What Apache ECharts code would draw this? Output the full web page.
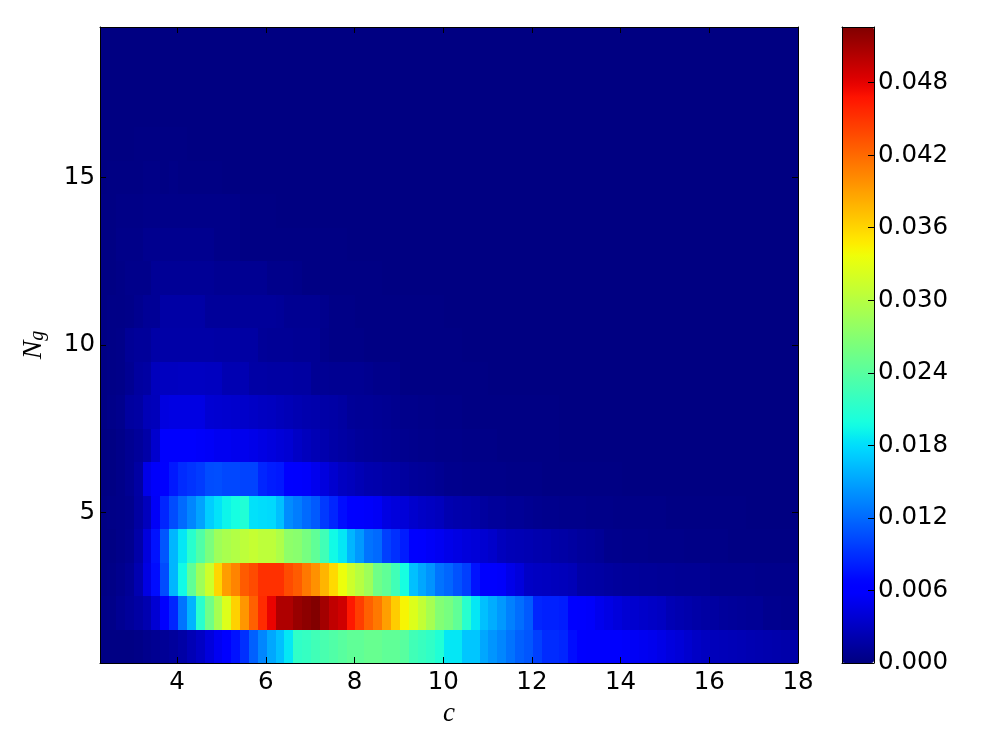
<!DOCTYPE html>
<html><head><meta charset="utf-8">
<style>html,body{margin:0;padding:0;background:#fff}#c{width:1000px;height:750px}</style>
<script src="https://cdn.jsdelivr.net/npm/echarts@6/dist/echarts.min.js"></script>
</head><body><div id="c"></div>
<script>
const firstColumnCentre = 2.32, columnStep = 0.2;
const xTicks = [4,6,8,10,12,14,16,18];
const yTicks = [5,10,15];
const barTicks = [0,0.006,0.012,0.018,0.024,0.03,0.036,0.042,0.048];
const valueMax = 0.0526;

const ng1 = [.0002,.0002,.0002,.0002,.0003,.0006,.0008,.001,.0013,.0017,
.0024,.0031,.0042,.0052,.0062,.0075,.009,.0115,.0135,.0152,
.0165,.0185,.0215,.0218,.0225,.023,.0235,.024,.0245,.0245,
.025,.025,.0245,.0245,.024,.0225,.022,.0215,.0205,.0185,
.0185,.0168,.0168,.0152,.0143,.0135,.0125,.0115,.011,.0098,
.0088,.0088,.0085,.0072,.0064,.006,.0059,.0059,.0058,.0056,
.0054,.0052,.005,.0047,.0043,.004,.0036,.0032,.0029,.0027,
.0026,.0025,.0024,.0023,.0022,.0021,.002,.0019,.0018];
const ng2 = [.0003,.0004,.0008,.0012,.0016,.0022,.0038,.0058,.0085,.0125,
.0158,.021,.0255,.029,.0325,.0362,.0395,.0425,.0455,.0478,
.0505,.0505,.0515,.052,.0525,.051,.0497,.049,.0465,.0445,
.0425,.0412,.039,.0365,.0342,.0325,.0308,.029,.0268,.026,
.0245,.021,.0185,.0165,.0155,.0145,.0132,.0122,.0112,.0085,
.0082,.0082,.008,.0065,.006,.0056,.005,.0046,.0042,.0038,
.0036,.0034,.0032,.003,.0024,.0022,.002,.0018,.0016,.0015,
.0013,.0012,.0011,.001,.001,.0007,.0007,.0006,.0006];
const ng3 = [.0002,.0003,.0006,.001,.0022,.0045,.0072,.0105,.016,.0195,
.0245,.0285,.0315,.036,.0392,.0405,.0428,.0437,.0452,.0452,
.0452,.0437,.0428,.0412,.0398,.0378,.0358,.0335,.0315,.03,
.0285,.0255,.0245,.0225,.0198,.0165,.0152,.0142,.0125,.0118,
.0108,.0098,.0075,.006,.0058,.0056,.0048,.0042,.0032,.003,
.0029,.0028,.0027,.0025,.0018,.0017,.0016,.0014,.0013,.0012,
.0012,.0011,.0011,.001,.001,.0009,.0009,.0009,.0009,.0006,
.0006,.0006,.0006,.0006,.0005,.0005,.0005,.0005,.0005];
const ng4 = [.0002,.0002,.0004,.0007,.0018,.0042,.0075,.011,.016,.0185,
.021,.0235,.0262,.0285,.0292,.0298,.0305,.031,.0305,.0305,
.0295,.0275,.0272,.026,.0245,.0225,.0195,.0185,.016,.0145,
.0125,.012,.0098,.009,.008,.0062,.0058,.0055,.0052,.0048,
.0045,.0042,.004,.0037,.0034,.0028,.0025,.0024,.0023,.0021,
.002,.0018,.0017,.0015,.0013,.0012,.001,.0006,.0006,.0005,
.0005,.0005,.0004,.0004,.0004,.0004,.0003,.0003,.0003,.0003,
.0003,.0002,.0002,.0002,.0002,.0002,.0002,.0002,.0002];
const ng5 = [.0002,.0003,.0004,.0006,.0015,.0028,.0055,.0085,.0105,.012,
.0135,.015,.0172,.0183,.0192,.0198,.0205,.0182,.018,.0178,
.0165,.0138,.013,.012,.0112,.0095,.0085,.0072,.0062,.0058,
.0056,.0054,.0045,.0042,.004,.0035,.0032,.003,.0028,.0022,
.002,.0019,.0018,.0014,.0012,.0012,.001,.001,.0008,.0007,
.0006,.0006,.0005,.0005,.0005,.0004,.0004,.0004,.0003,.0003,
.0003,.0003,.0003,.0003,.0002,.0002,.0002,.0002,.0002,.0002,
.0002,.0002,.0002,.0001,.0001,.0001,.0001,.0001,.0001];
const ng6 = [.0001,.0002,.0004,.0008,.0016,.0048,.0056,.0065,.0078,.0088,
.0092,.0096,.0105,.0106,.0102,.0102,.01,.01,.0085,.008,
.0078,.0062,.0058,.0056,.005,.0043,.0036,.003,.0028,.0024,
.0021,.002,.0018,.0017,.0014,.0012,.0011,.001,.0008,.0006,
.0006,.0005,.0005,.0004,.0004,.0004,.0003,.0003,.0003,.0003,
.0002,.0002,.0002,.0002,.0002,.0002,.0002,.0002,.0002,.0001,
.0001,.0001,.0001,.0001,.0001,.0001,.0001,.0001,.0001,.0001,
.0001,.0001,.0001,.0001,.0001,.0001,.0001,.0001,.0001];
const ng7 = [.0001,.0002,.0004,.0008,.0012,.0018,.0035,.0058,.0058,.0058,
.0058,.0056,.0055,.0052,.0052,.005,.005,.0048,.0045,.0043,
.004,.0038,.0032,.0028,.0024,.0021,.0018,.0016,.0014,.0012,
.0011,.001,.0009,.0008,.0007,.0006,.0005,.0005,.0004,.0004,
.0004,.0003,.0003,.0003,.0003,.0002,.0002,.0002,.0002,.0002,
.0002,.0002,.0001,.0001,.0001,.0001,.0001,.0001,.0001,.0001,
.0001,.0001,.0001,.0001,.0001,.0001,.0001,.0001,.0001,.0001,
.0001,.0001,.0001,.0001,.0001,.0001,.0001,.0001,.0001];
const ng8 = [.0002,.0004,.0006,.0014,.0016,.0025,.0027,.0044,.0045,.0045,
.0045,.0045,.0038,.0037,.0036,.0035,.0034,.0032,.003,.0029,
.0027,.0025,.0023,.0021,.002,.0018,.0017,.0015,.0011,.001,
.001,.0009,.0008,.0007,.0005,.0005,.0004,.0004,.0003,.0003,
.0003,.0002,.0002,.0002,.0002,.0002,.0002,.0002,.0002,.0002,
.0002,.0002,.0001,.0001,.0001,.0001,.0001,.0001,.0001,.0001,
.0001,.0001,.0001,.0001,.0001,.0001,.0001,.0001,.0001,.0001,
.0001,.0001,.0001,.0001,.0001,.0001,.0001,.0001,.0001];
const ng9 = [.0002,.0003,.0004,.0008,.0014,.0016,.0028,.0029,.0029,.003,
.003,.003,.0029,.0029,.0023,.0023,.0023,.0017,.0017,.0016,
.0016,.0016,.0015,.0015,.0009,.0009,.0008,.0008,.0008,.0008,
.0007,.0005,.0005,.0005,.0002,.0002,.0002,.0002,.0002,.0002,
.0002,.0002,.0002,.0002,.0001,.0001,.0001,.0001,.0001,.0001,
.0001,.0001,.0001,.0001,.0001,.0001,.0001,.0001,.0001,.0001,
.0001,.0001,.0001,.0001,.0001,.0001,.0001,.0001,.0001,.0001,
.0001,.0001,.0001,.0001,.0001,.0001,.0001,.0001,.0001];
const ng10 = [.0002,.0003,.0004,.001,.0012,.0012,.0018,.0018,.0018,.0018,
.0018,.0018,.0018,.0017,.0017,.0017,.0016,.0016,.0011,.001,
.001,.001,.0009,.0009,.0009,.0005,.0003,.0003,.0003,.0003,
.0002,.0002,.0002,.0002,.0002,.0002,.0002,.0002,.0002,.0002,
.0002,.0001,.0001,.0001,.0001,.0001,.0001,.0001,.0001,.0001,
.0001,.0001,.0001,.0001,.0001,.0001,.0001,.0001,.0001,.0001,
.0001,.0001,.0001,.0001,.0001,.0001,.0001,.0001,.0001,.0001,
.0001,.0001,.0001,.0001,.0001,.0001,.0001,.0001,.0001];
const ng11 = [.0002,.0003,.0003,.0004,.0007,.001,.001,.0017,.0017,.0017,
.0017,.0017,.0012,.0012,.0012,.0012,.0012,.0012,.0012,.0012,
.0011,.0008,.0008,.0008,.0008,.0006,.0003,.0003,.0003,.0002,
.0002,.0002,.0002,.0002,.0002,.0002,.0002,.0002,.0002,.0001,
.0001,.0001,.0001,.0001,.0001,.0001,.0001,.0001,.0001,.0001,
.0001,.0001,.0001,.0001,.0001,.0001,.0001,.0001,.0001,.0001,
.0001,.0001,.0001,.0001,.0001,.0001,.0001,.0001,.0001,.0001,
.0001,.0001,.0001,.0001,.0001,.0001,.0001,.0001,.0001];
const ng12 = [.0002,.0002,.0003,.0005,.0005,.0005,.001,.001,.001,.001,
.001,.001,.001,.0008,.0008,.0008,.0008,.0008,.0008,.0005,
.0005,.0005,.0004,.0002,.0002,.0002,.0002,.0002,.0002,.0002,
.0002,.0002,.0001,.0001,.0001,.0001,.0001,.0001,.0001,.0001,
.0001,.0001,.0001,.0001,.0001,.0001,.0001,.0001,.0001,.0001,
.0001,.0001,.0001,.0001,.0001,.0001,.0001,.0001,.0001,.0001,
.0001,.0001,.0001,.0001,.0001,.0001,.0001,.0001,.0001,.0001,
.0001,.0001,.0001,.0001,.0001,.0001,.0001,.0001,.0001];
const ng13 = [.0002,.0002,.0004,.0004,.0004,.0007,.0007,.0007,.0007,.0007,
.0007,.0007,.0007,.0004,.0004,.0004,.0002,.0002,.0002,.0002,
.0002,.0002,.0002,.0002,.0002,.0002,.0002,.0002,.0001,.0001,
.0001,.0001,.0001,.0001,.0001,.0001,.0001,.0001,.0001,.0001,
.0001,.0001,.0001,.0001,.0001,.0001,.0001,.0001,.0001,.0001,
.0001,.0001,.0001,.0001,.0001,.0001,.0001,.0001,.0001,.0001,
.0001,.0001,.0001,.0001,.0001,.0001,.0001,.0001,.0001,.0001,
.0001,.0001,.0001,.0001,.0001,.0001,.0001,.0001,.0001];
const ng14 = [.0002,.0002,.0003,.0003,.0003,.0004,.0004,.0004,.0004,.0004,
.0004,.0004,.0004,.0004,.0004,.0004,.0002,.0002,.0002,.0002,
.0001,.0001,.0001,.0001,.0001,.0001,.0001,.0001,.0001,.0001,
.0001,.0001,.0001,.0001,.0001,.0001,.0001,.0001,.0001,.0001,
.0001,.0001,.0001,.0001,.0001,.0001,.0001,.0001,.0001,.0001,
.0001,.0001,.0001,.0001,.0001,.0001,.0001,.0001,.0001,.0001,
.0001,.0001,.0001,.0001,.0001,.0001,.0001,.0001,.0001,.0001,
.0001,.0001,.0001,.0001,.0001,.0001,.0001,.0001,.0001];
const ng15 = [.0001,.0002,.0002,.0002,.0002,.0003,.0003,.0002,.0003,.0002,
.0002,.0002,.0002,.0002,.0001,.0001,.0001,.0001,.0001,.0001,
.0001,.0001,.0001,.0001,.0001,.0001,.0001,.0001,.0001,.0001,
.0001,.0001,.0001,.0001,.0001,.0001,.0001,.0001,.0001,.0001,
.0001,.0001,.0001,.0001,.0001,.0001,.0001,.0001,.0001,.0001,
.0001,.0001,.0001,.0001,.0001,.0001,.0001,.0001,.0001,.0001,
.0001,.0001,.0001,.0001,.0001,.0001,.0001,.0001,.0001,.0001,
.0001,.0001,.0001,.0001,.0001,.0001,.0001,.0001,.0001];
const ng16 = [.0001,.0001,.0001,.0001,.0002,.0002,.0002,.0002,.0002,.0002,
.0001,.0001,.0001,.0001,.0001,.0001,.0001,.0001,.0001,.0001,
.0001,.0001,.0001,.0001,.0001,.0001,.0001,.0001,.0001,.0001,
.0001,.0001,.0001,.0001,.0001,.0001,.0001,.0001,.0001,.0001,
.0001,.0001,.0001,.0001,.0001,.0001,.0001,.0001,.0001,.0001,
.0001,.0001,.0001,.0001,.0001,.0001,.0001,.0001,.0001,.0001,
.0001,.0001,.0001,.0001,.0001,.0001,.0001,.0001,.0001,.0001,
.0001,.0001,.0001,.0001,.0001,.0001,.0001,.0001,.0001];
const ng17 = [.0001,.0001,.0001,.0001,.0001,.0001,.0001,.0001,.0001,.0001,
.0001,.0001,.0001,.0001,.0001,.0001,.0001,.0001,.0001,.0001,
.0001,.0001,.0001,.0001,.0001,.0001,.0001,.0001,.0001,.0001,
.0001,.0001,.0001,.0001,.0001,.0001,.0001,.0001,.0001,.0001,
.0001,.0001,.0001,.0001,.0001,.0001,.0001,.0001,.0001,.0001,
.0001,.0001,.0001,.0001,.0001,.0001,.0001,.0001,.0001,.0001,
.0001,.0001,.0001,.0001,.0001,.0001,.0001,.0001,.0001,.0001,
.0001,.0001,.0001,.0001,.0001,.0001,.0001,.0001,.0001];
const ng18 = ng17.slice();
const ng19 = ng17.slice();
const rows = [ng1,ng2,ng3,ng4,ng5,ng6,ng7,ng8,ng9,ng10,ng11,ng12,ng13,ng14,ng15,ng16,ng17,ng18,ng19];

const cells = [];
rows.forEach((row, r) => row.forEach((v, k) => cells.push([firstColumnCentre + k * columnStep, r + 1, v])));

function jetChannel(t, pts){
  for (let i = 1; i < pts.length; i++) {
    if (t <= pts[i][0]) {
      const a = pts[i-1], b = pts[i];
      return a[1] + (b[1]-a[1]) * (t-a[0]) / (b[0]-a[0]);
    }
  }
  return pts[pts.length-1][1];
}
const jetStops = [];
for (let i = 0; i <= 64; i++) {
  const t = i / 64;
  const r = jetChannel(t, [[0,0],[.35,0],[.66,1],[.89,1],[1,.5]]);
  const g = jetChannel(t, [[0,0],[.125,0],[.375,1],[.64,1],[.91,0],[1,0]]);
  const b = jetChannel(t, [[0,.5],[.11,1],[.34,1],[.65,0],[1,0]]);
  jetStops.push(`rgb(${Math.round(r*255)},${Math.round(g*255)},${Math.round(b*255)})`);
}

const chart = echarts.init(document.getElementById('c'), null, {renderer:'canvas'});
const tickFont = {fontFamily:'DejaVu Sans', fontSize:24.5, color:'#000'};
const frame = {show:true, onZero:false, lineStyle:{color:'#000', width:1}};
const mathFont = {fontFamily:'Liberation Serif', fontStyle:'italic', color:'#000'};

chart.setOption({
  animation:false,
  backgroundColor:'#fff',
  grid:[
    {left:100, top:27, width:698, height:636},
    {left:842, top:27, width:32, height:636}
  ],
  visualMap:{
    type:'continuous', seriesIndex:0, dimension:2, min:0, max:valueMax,
    calculable:false, hoverLink:false, realtime:false,
    left:842, top:27, itemWidth:32, itemHeight:636, padding:0,
    inRange:{color:jetStops}, textStyle:{fontSize:0}, text:null
  },
  xAxis:[
    {type:'value', gridIndex:0, min:2.26, max:18, position:'bottom', z:5,
     name:'c', nameLocation:'middle', nameGap:37,
     nameTextStyle:Object.assign({fontSize:27}, mathFont),
     axisLine:frame, splitLine:{show:false},
     axisTick:{inside:true, length:6, lineStyle:{color:'#000'}, customValues:xTicks},
     axisLabel:Object.assign({margin:7, customValues:xTicks, formatter:v=>String(v)}, tickFont)},
    {type:'value', gridIndex:0, min:2.26, max:18, position:'top', z:5,
     axisLine:frame, splitLine:{show:false},
     axisTick:{inside:true, length:6, lineStyle:{color:'#000'}, customValues:xTicks},
     axisLabel:{show:false}},
    {type:'value', gridIndex:1, min:0, max:1, position:'bottom', z:5,
     axisLine:frame, splitLine:{show:false}, axisTick:{show:false}, axisLabel:{show:false}},
    {type:'value', gridIndex:1, min:0, max:1, position:'top', z:5,
     axisLine:frame, splitLine:{show:false}, axisTick:{show:false}, axisLabel:{show:false}}
  ],
  yAxis:[
    {type:'value', gridIndex:0, min:0.5, max:19.5, position:'left', z:5,
     name:'{n|N}{g|g}', nameLocation:'middle', nameGap:52, nameRotate:90,
     nameTextStyle:{rich:{
       n:Object.assign({fontSize:28}, mathFont),
       g:Object.assign({fontSize:20, verticalAlign:'bottom'}, mathFont)}},
     axisLine:frame, splitLine:{show:false},
     axisTick:{inside:true, length:6, lineStyle:{color:'#000'}, customValues:yTicks},
     axisLabel:Object.assign({margin:5, padding:[2,0,0,0], customValues:yTicks, formatter:v=>String(v)}, tickFont)},
    {type:'value', gridIndex:0, min:0.5, max:19.5, position:'right', z:5,
     axisLine:frame, splitLine:{show:false},
     axisTick:{inside:true, length:6, lineStyle:{color:'#000'}, customValues:yTicks},
     axisLabel:{show:false}},
    {type:'value', gridIndex:1, min:0, max:valueMax, position:'left', z:5,
     axisLine:frame, splitLine:{show:false}, axisTick:{show:false}, axisLabel:{show:false}},
    {type:'value', gridIndex:1, min:0, max:valueMax, position:'right', z:5,
     axisLine:frame, splitLine:{show:false},
     axisTick:{inside:true, length:6, lineStyle:{color:'#000'}, customValues:barTicks},
     axisLabel:Object.assign({margin:4, customValues:barTicks, formatter:v=>v.toFixed(3)}, tickFont)}
  ],
  series:[{
    type:'custom', xAxisIndex:0, yAxisIndex:0, clip:true, silent:true,
    encode:{x:0, y:1},
    data:cells,
    renderItem:(params, api)=>{
      const x = api.value(0), y = api.value(1);
      const a = api.coord([x-columnStep/2, y+0.5]);
      const b = api.coord([x+columnStep/2, y-0.5]);
      const x0 = Math.round(a[0]), x1 = Math.round(b[0]);
      const y0 = Math.round(a[1]), y1 = Math.round(b[1]);
      return {type:'rect', shape:{x:x0, y:y0, width:x1-x0, height:y1-y0},
              style:{fill:api.visual('color')}};
    }
  }]
});
</script></body></html>
